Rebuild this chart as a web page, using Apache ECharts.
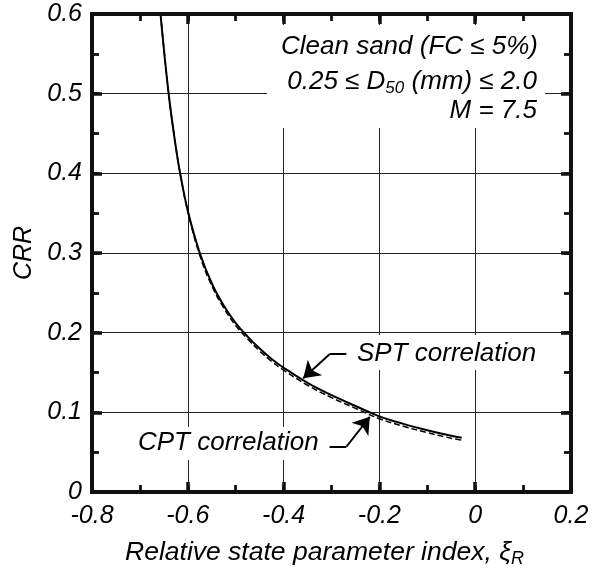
<!DOCTYPE html>
<html>
<head>
<meta charset="utf-8">
<script src="https://cdn.jsdelivr.net/npm/echarts@6/dist/echarts.min.js"></script>
<style>
html,body{margin:0;padding:0;background:#fff;}
#c{width:596px;height:577px;}
</style>
</head>
<body>
<div id="c"></div>
<script>
// ---- data ----
var xiSPT  = [-0.657,-0.640,-0.625,-0.616,-0.600,-0.575,-0.550,-0.525,-0.500,-0.475,-0.450,-0.425,-0.400,-0.350,-0.300,-0.250,-0.200,-0.150,-0.100,-0.050,-0.028];
var crrSPT = [0.600,0.500,0.433,0.400,0.353,0.300,0.262,0.234,0.212,0.195,0.180,0.167,0.156,0.137,0.1215,0.108,0.095,0.0855,0.0775,0.0705,0.068];
var xiCPT  = [-0.657,-0.640,-0.625,-0.616,-0.600,-0.575,-0.550,-0.525,-0.500,-0.475,-0.450,-0.425,-0.400,-0.350,-0.300,-0.250,-0.200,-0.150,-0.100,-0.050,-0.028];
var crrCPT = [0.600,0.500,0.433,0.400,0.352,0.297,0.259,0.231,0.209,0.192,0.177,0.164,0.153,0.134,0.1185,0.105,0.092,0.0825,0.0745,0.0675,0.065];
var xTickLabels = ['-0.8','-0.6','-0.4','-0.2','0','0.2'];
var yTickLabels = ['0','0.1','0.2','0.3','0.4','0.5','0.6'];
// annotation arrows (data units): tail, elbow, tip
var arrowSPT = [[-0.269,0.173],[-0.304,0.173],[-0.359,0.1427]];
var arrowCPT = [[-0.304,0.0568],[-0.269,0.0568],[-0.220,0.0944]];

var FONT = 'Liberation Sans, Arial, sans-serif';
var INK = '#111';
function zip(a,b){return a.map(function(v,i){return [v,b[i]];});}
function fmtX(v){var s=(Math.round(v*10)/10).toString();var i=xTickLabels.indexOf(s);return i>=0?xTickLabels[i]:s;}
function fmtY(v){var s=(Math.round(v*10)/10).toString();var i=yTickLabels.indexOf(s);return i>=0?yTickLabels[i]:s;}

// tick-only axes (no axis line, no labels, no split lines)
function tickAxis(pos, min, max, interval, len, w){
  return {type:'value', min:min, max:max, interval:interval, position:pos,
    axisLine:{show:false, onZero:false},
    axisTick:{show:true, inside:true, length:len, lineStyle:{color:INK, width:w}},
    axisLabel:{show:false}, splitLine:{show:false}};
}

var chart = echarts.init(document.getElementById('c'), null, {renderer:'canvas'});

var xMain = {
  type:'value', min:-0.8, max:0.2, interval:0.2, position:'bottom',
  axisLine:{show:false, onZero:false},
  axisTick:{show:false},
  splitLine:{show:true, lineStyle:{color:'#222', width:1}},
  axisLabel:{formatter:fmtX, fontFamily:FONT, fontStyle:'italic', fontSize:25, color:'#000', margin:12},
  name:'Relative state parameter index, ξ{sub|R}',
  nameLocation:'middle', nameGap:46,
  nameTextStyle:{fontFamily:FONT, fontStyle:'italic', fontSize:26.5, color:'#000', padding:[0,14,0,0],
    rich:{sub:{fontFamily:FONT, fontStyle:'italic', fontSize:18, color:'#000', verticalAlign:'bottom', padding:[12,0,0,0]}}}
};
var yMain = {
  type:'value', min:0, max:0.6, interval:0.1, position:'left',
  axisLine:{show:false, onZero:false},
  axisTick:{show:false},
  splitLine:{show:true, lineStyle:{color:'#222', width:1}},
  axisLabel:{formatter:fmtY, fontFamily:FONT, fontStyle:'italic', fontSize:25, color:'#000', margin:10},
  name:'CRR', nameLocation:'middle', nameGap:50, nameRotate:90,
  nameTextStyle:{fontFamily:FONT, fontStyle:'italic', fontSize:25, color:'#000'}
};

var option = {
  backgroundColor:'#fff',
  animation:false,
  grid:{left:92, top:14, right:25, bottom:85, show:true, borderColor:INK, borderWidth:4, backgroundColor:'rgba(0,0,0,0)'},
  xAxis:[
    xMain,
    tickAxis('bottom', -0.8, 0.2, 0.2, 10, 3.5),
    tickAxis('top', -0.8, 0.2, 0.2, 10, 3.5),
    tickAxis('bottom', -0.8, 0.2, 0.1, 7, 2.8),
    tickAxis('top', -0.8, 0.2, 0.1, 7, 2.8)
  ],
  yAxis:[
    yMain,
    tickAxis('left', 0, 0.6, 0.1, 10, 3.5),
    tickAxis('right', 0, 0.6, 0.1, 10, 3.5),
    tickAxis('left', 0, 0.6, 0.05, 7, 2.8),
    tickAxis('right', 0, 0.6, 0.05, 7, 2.8)
  ],
  series:[
    {type:'line', name:'SPT', data:zip(xiSPT,crrSPT), smooth:0.4, showSymbol:false, symbol:'none',
     lineStyle:{color:'#000', width:2}},
    {type:'line', name:'CPT', data:zip(xiCPT,crrCPT), smooth:0.4, showSymbol:false, symbol:'none',
     lineStyle:{color:'#000', width:1.5, type:[6,3]}},
    {type:'lines', coordinateSystem:'cartesian2d', symbol:['none','none'],
     lineStyle:{color:'#000', width:2, opacity:1},
     data:[{coords:[arrowSPT[0],arrowSPT[1]]},{coords:[arrowCPT[0],arrowCPT[1]]}]},
    {type:'lines', coordinateSystem:'cartesian2d', symbol:['none','arrow'], symbolSize:[12,16],
     lineStyle:{color:'#000', width:2, opacity:1},
     data:[{coords:[arrowSPT[1],arrowSPT[2]]},{coords:[arrowCPT[1],arrowCPT[2]]}]}
  ],
  graphic:[
    {type:'rect', z:3, shape:{x:267, y:25, width:278, height:103}, style:{fill:'#fff'}},
    {type:'rect', z:3, shape:{x:351, y:335, width:190, height:35}, style:{fill:'#fff'}},
    {type:'rect', z:3, shape:{x:132, y:427, width:194, height:33}, style:{fill:'#fff'}},
    {type:'polyline', z:8, shape:{points:[[92,12],[92,492],[571,492],[571,14],[90,14]]}, style:{fill:null, stroke:INK, lineWidth:3.8}},
    {type:'text', z:7, x:538, y:47, style:{text:'Clean sand (FC ≤ 5%)', font:'italic 26px '+FONT, fill:'#000', textAlign:'right', textVerticalAlign:'middle'}},
    {type:'text', z:7, x:537, y:82, style:{text:'0.25 ≤ D{sub|50} (mm) ≤ 2.0', font:'italic 26px '+FONT, fill:'#000', textAlign:'right', textVerticalAlign:'middle',
      rich:{sub:{font:'italic 17px '+FONT, fill:'#000', padding:[12,0,0,0]}}}},
    {type:'text', z:7, x:537, y:111, style:{text:'M = 7.5', font:'italic 26px '+FONT, fill:'#000', textAlign:'right', textVerticalAlign:'middle'}},
    {type:'text', z:7, x:357, y:354, style:{text:'SPT correlation', font:'italic 26px '+FONT, fill:'#000', textAlign:'left', textVerticalAlign:'middle'}},
    {type:'text', z:7, x:138, y:443, style:{text:'CPT correlation', font:'italic 26px '+FONT, fill:'#000', textAlign:'left', textVerticalAlign:'middle'}}
  ]
};
chart.setOption(option);
</script>
</body>
</html>
